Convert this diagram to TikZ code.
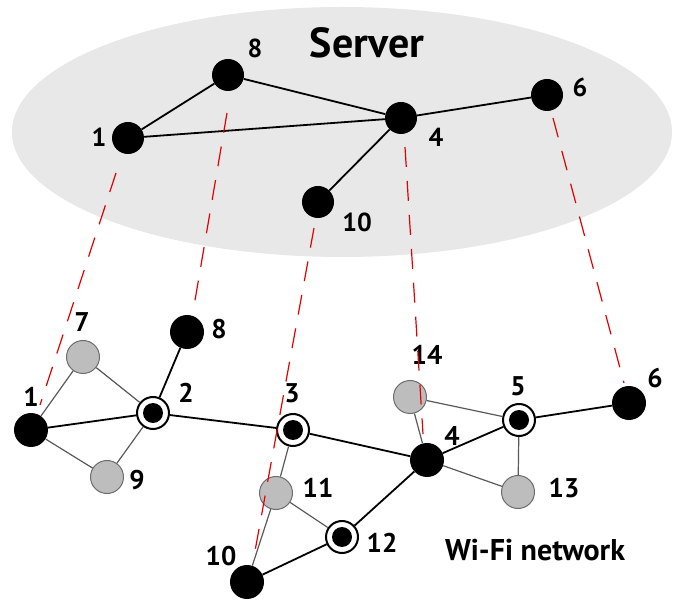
\documentclass[tikz,border=0pt]{standalone}
\usepackage{fontspec}
\setmainfont{PT Sans}
\begin{document}
\begin{tikzpicture}[x=1pt,y=-1pt,
  blk/.style={circle,fill=black,minimum size=34pt,inner sep=0pt},
  sblk/.style={circle,fill=black,minimum size=32pt,inner sep=0pt},
  gry/.style={circle,fill=gray!52,draw=gray!85!black,line width=1pt,minimum size=33pt,inner sep=0pt},
  ring/.style={circle,fill=white,draw=black,line width=2pt,minimum size=32pt,inner sep=0pt,
    path picture={\fill[black] (path picture bounding box.center) circle (10pt);}},
  lbl/.style={font=\bfseries\fontsize{27}{30}\selectfont,inner sep=0pt},
  slbl/.style={font=\bfseries\fontsize{26}{29}\selectfont,inner sep=0pt},
  bl/.style={line width=1.8pt,black},
  gl/.style={line width=1.2pt,black!65},
  rd/.style={red!90!black,line width=1.2pt,dash pattern=on 20pt off 14pt}]
\useasboundingbox (0,0) rectangle (675,601);
\fill[gray!18] (342,132) ellipse [x radius=330, y radius=125];
\node[font=\bfseries\fontsize{42}{46}\selectfont,inner sep=0pt,anchor=base] (server) at (367,58) {Server};
% server nodes
\node[sblk] (s8) at (228,75) {};
\node[sblk] (s1) at (128,138) {};
\node[sblk] (s4) at (401,118) {};
\node[sblk] (s6) at (547,95) {};
\node[sblk] (s10) at (318,202) {};
\node[slbl] (ls8) at (255,48) {8};
\node[slbl] (ls1) at (99,137) {1};
\node[slbl] (ls4) at (436,137) {4};
\node[slbl] (ls6) at (580,87) {6};
\node[slbl] (ls10) at (357,222) {10};
\draw[bl] (s1) -- (s8);
\draw[bl] (s8) -- (s4);
\draw[bl] (s1) -- (s4);
\draw[bl] (s4) -- (s6);
\draw[bl] (s4) -- (s10);
% wifi nodes
\node[blk] (n1) at (31,430) {};
\node[gry] (n7) at (83,357) {};
\node[ring] (n2) at (153,413) {};
\node[blk] (n8) at (187,332) {};
\node[gry] (n9) at (107,477) {};
\node[ring] (n3) at (293,430) {};
\node[gry] (n11) at (276,493) {};
\node[ring] (n12) at (342,537) {};
\node[blk] (n10) at (247,582) {};
\node[blk] (n4) at (427,460) {};
\node[gry] (n14) at (410,397) {};
\node[ring] (n5) at (519,420) {};
\node[blk] (n6) at (629,403) {};
\node[gry] (n13) at (518,492) {};
\node[lbl] (l7) at (82,322) {7};
\node[lbl] (l8) at (219,329) {8};
\node[lbl] (l1) at (31,397) {1};
\node[lbl] (l2) at (186,393) {2};
\node[lbl] (l9) at (137,480) {9};
\node[lbl] (l3) at (292,393) {3};
\node[lbl] (l11) at (318,488) {11};
\node[lbl] (l10) at (221,556) {10};
\node[lbl] (l14) at (427,355) {14};
\node[lbl] (l5) at (518,386) {5};
\node[lbl] (l4) at (452,436) {4};
\node[lbl] (l6) at (655,378) {6};
\node[lbl] (l13) at (564,488) {13};
\node[lbl] (l12) at (382,543) {12};
\node[font=\bfseries\fontsize{30}{33}\selectfont,inner sep=0pt,anchor=base] (wifi) at (535,560) {Wi-Fi network};
% edges
\draw[gl] (n1) -- (n7);
\draw[gl] (n1) -- (n9);
\draw[gl] (n7) -- (n2);
\draw[gl] (n9) -- (n2);
\draw[bl] (n1) -- (n2);
\draw[bl] (n8) -- (n2);
\draw[bl] (n2) -- (n3);
\draw[gl] (n3) -- (n11);
\draw[bl] (n3) -- (n4);
\draw[gl] (n11) -- (n12);
\draw[gl] (n11) -- (n10);
\draw[bl] (n10) -- (n12);
\draw[bl] (n12) -- (n4);
\draw[gl] (n4) -- (n14);
\draw[gl] (n14) -- (n5);
\draw[bl] (n4) -- (n5);
\draw[gl] (n4) -- (n13);
\draw[gl] (n5) -- (n13);
\draw[bl] (n5) -- (n6);
% red dashed
\coordinate (a1) at (116,173); \coordinate (b1) at (40,405);
\coordinate (a8) at (227,113); \coordinate (b8) at (193,312);
\coordinate (a10) at (314,228); \coordinate (b10) at (253,562);
\coordinate (a4) at (405,147); \coordinate (b4) at (423,434);
\coordinate (a6) at (553,118); \coordinate (b6) at (624,383);
\draw[rd] (a1) -- (b1);
\draw[rd] (a8) -- (b8);
\draw[rd] (a10) -- (b10);
\draw[rd] (a4) -- (b4);
\draw[rd] (a6) -- (b6);
\end{tikzpicture}
\end{document}
